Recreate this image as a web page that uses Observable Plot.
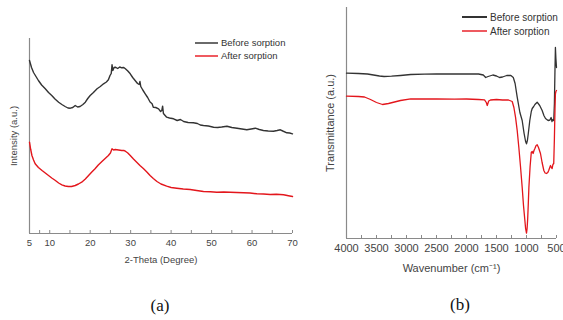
<!DOCTYPE html>
<html><head><meta charset="utf-8">
<script src="https://cdn.jsdelivr.net/npm/d3@7"></script>
<script src="https://cdn.jsdelivr.net/npm/@observablehq/plot@0.6"></script>
<style>
body{margin:0;background:#fff;}
#wrap{position:relative;width:563px;height:320px;overflow:hidden;font-family:"Liberation Sans",Arial,sans-serif;}
.panel{position:absolute;top:0;}
.cap{position:absolute;font-family:"Liberation Serif","Times New Roman",serif;font-size:17px;color:#111;transform:translate(-50%,-50%);}
.legend{position:absolute;color:#333;}
.legend .row{display:flex;align-items:center;white-space:nowrap;}
.legend .sw{display:inline-block;margin-right:3px;flex:none;}
</style></head>
<body>
<div id="wrap">
  <div id="pa" class="panel" style="left:0"></div>
  <div id="pb" class="panel" style="left:300px"></div>
  <div class="legend" style="left:195px;top:36px;font-size:9.5px">
    <div class="row" style="height:13px"><span class="sw" style="width:23px;height:2px;background:#6a6a6a"></span>Before sorption</div>
    <div class="row" style="height:13px"><span class="sw" style="width:23px;height:2px;background:#ef5a60"></span>After sorption</div>
  </div>
  <div class="legend" style="left:462px;top:10px;font-size:10px">
    <div class="row" style="height:14px"><span class="sw" style="width:25px;height:2px;background:#333"></span>Before sorption</div>
    <div class="row" style="height:14px"><span class="sw" style="width:25px;height:2px;background:#ee5a60"></span>After sorption</div>
  </div>
  <div class="cap" style="left:160px;top:306px">(a)</div>
  <div class="cap" style="left:460px;top:305px">(b)</div>
</div>
<script>
// ---- (a) XRD data ----
const xrdThetaBefore = [5,5.5,6,6.6,7.2,8,8.9,9.7,10.5,11.3,12.2,13,13.8,14.5,15.1,15.7,16.3,16.9,17.5,18.2,18.8,19.4,20,20.8,21.7,22.5,23.3,24,24.5,24.9,25.2,25.4,25.6,25.9,26.2,26.8,27.3,27.8,28.3,28.7,29.3,29.9,30.5,31.1,31.7,32.1,32.3,32.5,33,33.6,34.2,34.8,35.3,35.6,36.2,36.9,37.4,37.7,37.9,38.1,38.9,39.6,40.6,41.5,42.3,43.1,44.2,45.5,46.5,47.2,48,49.2,50.5,51.5,52.5,53.8,55,56.3,57.5,58.7,59.8,60.8,61.8,62.8,64,65.3,66.2,67,67.6,68.6,69.3,70];
const xrdBefore = [173,166,161,157,153,148.5,144.7,141,138,134.5,131.3,129,127,125.5,125.3,126,128,126.5,127,129,131.3,135,138,141,144.7,147,149.7,151.5,153.7,158,160,168.7,163,166,166.3,165,166.5,165.7,166,164.7,162.5,159.7,156,153,150,149,152,147,143.5,139.7,136,131.5,129.7,126.3,126,124.7,122,123,127.3,120,116.3,115.5,114.7,113,114,112,111,110.7,110,108.5,108,107.5,106.3,106,106.5,107.3,106,105.3,104.5,103.7,104.5,105.3,104,103,102.5,102.3,103,103.7,102.5,100.7,100.5,99.7];
const xrdThetaAfter = [5,5.3,5.6,6,6.4,7.2,8.1,8.9,9.7,10.5,11.4,12.2,13,13.8,14.6,15.4,16.3,17.1,17.9,18.8,19.6,20.4,21.2,22,22.9,23.7,24.5,25,25.4,25.8,26.2,27,27.8,28.3,28.7,29.3,29.9,30.7,31.5,32.3,33.2,34,34.8,35.6,36.5,37.5,38.9,40,41.4,43,44.7,46.3,48,49.7,51.3,53,54.6,56.2,57.9,59.5,61.2,62.8,64.5,66,67.8,69,70];
const xrdAfter = [91.3,84,78,73.5,69.7,66,63,60.5,58,55.5,53,50.5,48.7,47.5,47,47,48,49.5,51.3,54.5,58,61.5,64.7,68.5,72,75,78,80.5,84.7,83.5,84,83.5,83,83,82.3,80.5,78,74.5,71.3,68,64.7,61.5,58,55,52,49.5,47.3,46,45.3,44.5,44,43,42,41.8,41.3,41.5,41.3,41,40.7,40.5,39.7,39.5,39,39.2,38.7,37.8,37];
const xrdTickLabels = [5,10,20,30,40,50,60,70];
const xrdMinorTicks = [7.5,15,25,35,45,55,65];

// ---- (b) FTIR data ----
const wnBefore = [4000,3800,3650,3550,3450,3374,3250,3100,2930,2700,2500,2300,2000,1800,1720,1680,1640,1560,1500,1450,1400,1330,1260,1220,1190,1155,1110,1072,1040,1015,1000,985,970,945,920,905,880,860,822,780,739,710,683,640,610,590,575,560,546,535,525,518,510,500];
const ftirBefore = [165.3,165,164.5,163.5,162.5,162,162.3,163,164,164.3,164.5,164.5,164.5,164.5,163.5,161,162,163.5,162.5,161,161.5,163,163,161,155,141.3,126,118,105,97,94.7,98,105,118,127,130,132,134,136.3,133,128,123,120,118,118.5,121,117,119,118,135,170,191,180,171];
const wnAfter = [4000,3800,3700,3600,3500,3400,3300,3100,2930,2700,2500,2200,2000,1800,1700,1670,1654,1630,1600,1500,1400,1300,1238,1210,1183,1155,1128,1100,1072,1050,1030,1015,1000,990,980,970,960,940,920,905,890,875,860,840,822,800,767,740,711,690,667,645,630,600,585,572,560,546,535,525,518,510,500];
const ftirAfter = [142.3,142,141.5,139,136,134,135,138,139.7,139.5,139.5,139.3,139.5,139,138.7,136,133,137.5,138.5,139,138.5,138.5,137,131,121.3,108,91.3,72,51.3,33,20,10,5.3,10,20,35,51.3,72,86.3,87,85,88,90,93,93.7,91,85,76,68,65.5,65,66,68,73,71,70,74,75,100,130,144.7,147,148];
const wnTickLabels = [4000,3500,3000,2500,2000,1500,1000,500];
const wnMinorTicks = [3750,3250,2750,2250,1750,1250,750];

const black = "#333333", red = "#e3161c", axisGray = "#8a8a8a", textGray = "#444";
const font = "Liberation Sans, Arial, sans-serif";
const plain = d => String(d);

const A = Plot.plot({
  width: 300, height: 275,
  marginLeft: 29, marginRight: 8, marginTop: 38, marginBottom: 42,
  style: {fontFamily: font, fontSize: "8px", color: textGray, background: "transparent", overflow: "visible"},
  x: {domain: [5, 70]},
  y: {domain: [0, 195]},
  marks: [
    Plot.axisX({ticks: xrdTickLabels, tickSize: 0, tickPadding: 6, tickFormat: plain, label: "2-Theta (Degree)", labelAnchor: "center", labelOffset: 29, labelArrow: "none", fontSize: 9.5}),
    Plot.axisX({ticks: xrdTickLabels.concat(xrdMinorTicks), tickSize: 3, dy: -3, text: null, label: null, stroke: axisGray}),
    Plot.axisY({ticks: [], label: "Intensity (a.u.)", labelAnchor: "center", labelOffset: 19, labelArrow: "none", fontSize: 9.5}),
    Plot.ruleX([5], {stroke: axisGray, strokeWidth: 1.2}),
    Plot.ruleY([0], {stroke: axisGray, strokeWidth: 1.2}),
    Plot.line(xrdThetaBefore, {x: d => d, y: (d, i) => xrdBefore[i], stroke: black, strokeWidth: 1.4}),
    Plot.line(xrdThetaAfter, {x: d => d, y: (d, i) => xrdAfter[i], stroke: red, strokeWidth: 1.4})
  ]
});
document.getElementById("pa").append(A);

const B = Plot.plot({
  width: 263, height: 280,
  marginLeft: 46, marginRight: 7, marginTop: 7, marginBottom: 42,
  style: {fontFamily: font, fontSize: "9px", color: textGray, background: "transparent", overflow: "visible"},
  x: {domain: [4000, 500]},
  y: {domain: [0, 231]},
  marks: [
    Plot.axisX({ticks: wnTickLabels, tickSize: 0, tickPadding: 6, tickFormat: plain, label: "Wavenumber (cm⁻¹)", labelAnchor: "center", labelOffset: 33, labelArrow: "none", fontSize: 11}),
    Plot.axisX({ticks: wnTickLabels.concat(wnMinorTicks), tickSize: 3, dy: -3, text: null, label: null, stroke: axisGray}),
    Plot.axisY({ticks: [], label: "Transmittance (a.u.)", labelAnchor: "center", labelOffset: 20, labelArrow: "none", fontSize: 11}),
    Plot.ruleX([4000], {stroke: axisGray, strokeWidth: 1.2}),
    Plot.ruleY([0], {stroke: axisGray, strokeWidth: 1.2}),
    Plot.line(wnBefore, {x: d => d, y: (d, i) => ftirBefore[i], stroke: black, strokeWidth: 1.3}),
    Plot.line(wnAfter, {x: d => d, y: (d, i) => ftirAfter[i], stroke: red, strokeWidth: 1.3})
  ]
});
document.getElementById("pb").append(B);
</script>
</body></html>
